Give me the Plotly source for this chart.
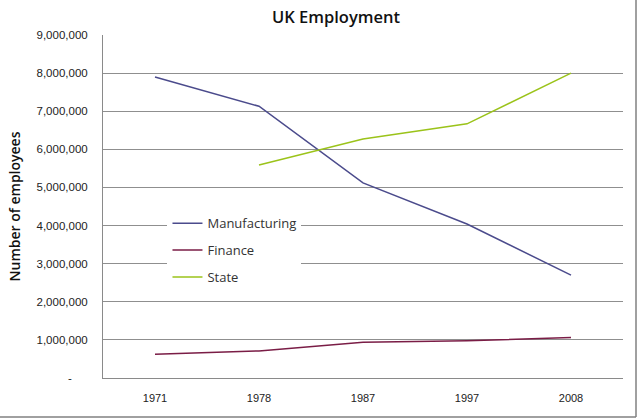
import plotly.graph_objects as go

# data
years = ["1971", "1978", "1987", "1997", "2008"]
manufacturing = [7900000, 7130000, 5120000, 4040000, 2700000]
finance = [620000, 710000, 940000, 980000, 1060000]
state = [None, 5590000, 6270000, 6670000, 8000000]

y_ticks = [0, 1000000, 2000000, 3000000, 4000000, 5000000, 6000000, 7000000, 8000000, 9000000]
y_tick_text = ["-\u00a0\u00a0\u00a0\u00a0\u00a0"] + [f"{v:,}" for v in y_ticks[1:]]

font = "Liberation Sans"

fig = go.Figure()
fig.add_trace(go.Scatter(x=years, y=manufacturing, name="Manufacturing", mode="lines",
                         line=dict(color="#4b4b8c", width=1.5), legendgroup="a"))
fig.add_trace(go.Scatter(x=years, y=finance, name="Finance", mode="lines",
                         line=dict(color="#7a1d46", width=1.5), legendgroup="b"))
fig.add_trace(go.Scatter(x=years, y=state, name="State", mode="lines",
                         line=dict(color="#9bc31a", width=1.5), legendgroup="c"))

fig.update_layout(
    width=640, height=420,
    margin=dict(l=103, r=17, t=35, b=42),
    paper_bgcolor="white", plot_bgcolor="white",
    font=dict(family=font, size=11, color="#222"),
    title=dict(text="UK Employment", x=0.525, xanchor="center", y=0.96, yanchor="middle",
               font=dict(family="Open Sans", size=16.5, color="#111", weight=600)),
    showlegend=True,
    legend=dict(x=0.124, y=0.495, xanchor="left", yanchor="top", bgcolor="white",
                tracegroupgap=7, font=dict(family="Open Sans", size=13, color="#333")),
    shapes=[
        dict(type="line", xref="paper", yref="paper", x0=1.025, x1=1.025, y0=-0.114, y1=1.11,
             line=dict(color="#808080", width=1.5)),
        dict(type="line", xref="paper", yref="paper", x0=-0.21, x1=1.025, y0=-0.114, y1=-0.114,
             line=dict(color="#808080", width=1.5)),
    ],
)
fig.update_xaxes(type="category", range=[-0.5, 4.5], showgrid=False, showline=True,
                 linecolor="#8a8a8a", linewidth=1, ticks="", ticklabelstandoff=10,
                 tickfont=dict(family=font, size=11, color="#222"))
fig.update_yaxes(range=[0, 9000000], tickvals=y_ticks, ticktext=y_tick_text,
                 showgrid=True, gridcolor="#8f8f8f", gridwidth=1, zeroline=False,
                 showline=True, linecolor="#8a8a8a", linewidth=1, ticks="",
                 ticklabelstandoff=12,
                 tickfont=dict(family=font, size=11.5, color="#222"),
                 title=dict(text="Number of employees", standoff=12,
                            font=dict(family="Open Sans", size=14, color="#111", weight=600)))

# the page has a default body margin; remove it so the figure fills the window
fig.write_html("out.html", config={"displayModeBar": False},
               post_script="document.body.style.margin='0px';")
